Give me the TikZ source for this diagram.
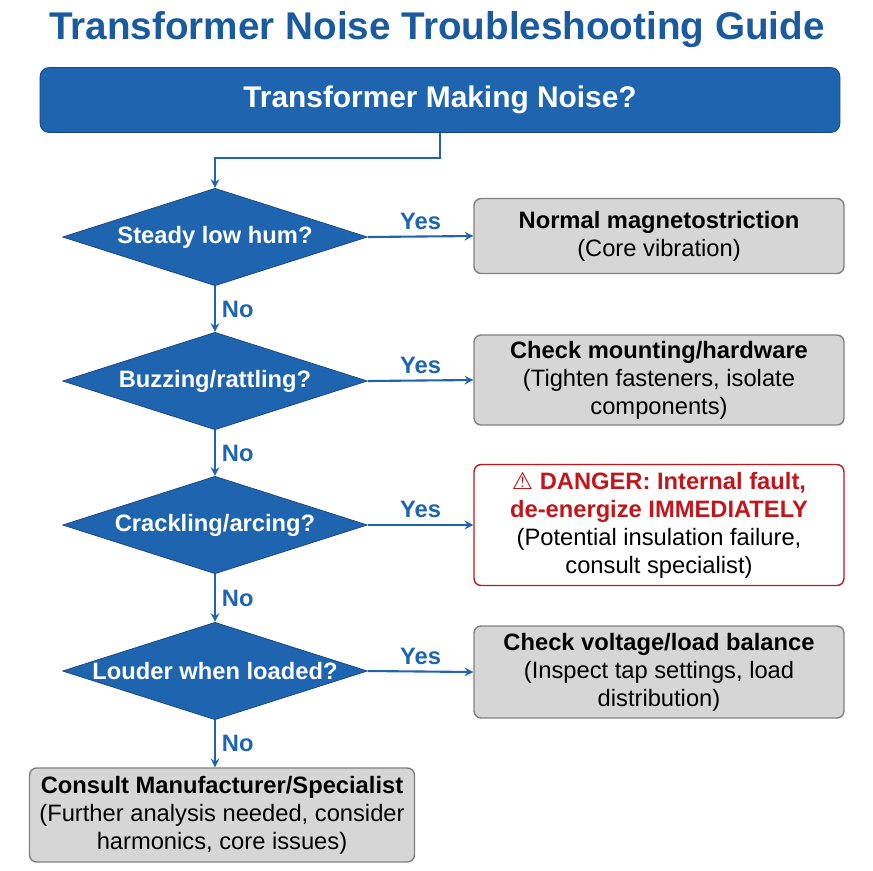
\documentclass[tikz,border=0pt]{standalone}
\usepackage{fontspec}
\setmainfont{Liberation Sans}
\newfontfamily\symfont{DejaVu Sans}
\usetikzlibrary{shapes.geometric}
\definecolor{mainblue}{HTML}{1F64AF}
\definecolor{titleblue}{HTML}{1A5A9E}
\definecolor{dangerred}{HTML}{C0161C}
\definecolor{boxgray}{HTML}{D6D6D6}
\begin{document}
\begin{tikzpicture}[x=0.02cm,y=-0.02cm]
        \tikzstyle{dec} = [diamond, aspect=3.1, inner sep=0pt, minimum width=6.1cm, minimum height=1.95cm, fill=mainblue, draw=mainblue!70!black, text=white, font=\fontsize{13.5}{16}\selectfont\bfseries]
        \tikzstyle{res} = [rectangle, rounded corners=4pt, minimum width=7.4cm, align=center, fill=boxgray, draw=gray, thick, font=\fontsize{13.5}{16}\selectfont]
        \tikzstyle{arrow} = [very thick, draw=mainblue, ->, >=stealth]
        \tikzstyle{lab} = [text=mainblue, font=\fontsize{13.5}{16}\selectfont\bfseries]
        \useasboundingbox (0,0) rectangle (873,870);
        \node (title) [text=titleblue, font=\fontsize{22}{26}\selectfont\bfseries] at (437,30) {Transformer Noise Troubleshooting Guide};
        \node (top) [rectangle, rounded corners=5pt, minimum width=16cm, minimum height=1.3cm, fill=mainblue, draw=mainblue!70!black, text=white, font=\fontsize{17}{20}\selectfont\bfseries] at (440,100) {Transformer Making Noise?};
        \node (d1) [dec] at (215,237) {Steady low hum?};
        \node (d2) [dec] at (215,381) {Buzzing/rattling?};
        \node (d3) [dec] at (215,525) {Crackling/arcing?};
        \node (d4) [dec] at (215,671) {Louder when loaded?};
        \node (r1) [res, minimum height=1.5cm] at (659,236) {\textbf{Normal magnetostriction}\\(Core vibration)};
        \node (r2) [res, minimum height=1.76cm] at (659,380) {\textbf{Check mounting/hardware}\\(Tighten fasteners, isolate\\components)};
        \node (r3) [res, minimum height=2.42cm, fill=white, draw=dangerred] at (659,525) {\textcolor{dangerred}{\textbf{{\symfont ⚠} DANGER: Internal fault,}}\\\textcolor{dangerred}{\textbf{de-energize IMMEDIATELY}}\\(Potential insulation failure,\\consult specialist)};
        \node (r4) [res, minimum height=1.84cm] at (659,672) {\textbf{Check voltage/load balance}\\(Inspect tap settings, load\\distribution)};
        \node (r5) [res, minimum width=7.7cm, minimum height=1.88cm] at (222,815) {\textbf{Consult Manufacturer/Specialist}\\(Further analysis needed, consider\\harmonics, core issues)};
        \draw[arrow] (top.south) |- (215,158) -- (d1.north);
        \draw[arrow] (d1.east) -- node[lab, above] {Yes} (r1.west);
        \draw[arrow] (d2.east) -- node[lab, above] {Yes} (r2.west);
        \draw[arrow] (d3.east) -- node[lab, above] {Yes} (r3.west);
        \draw[arrow] (d4.east) -- node[lab, above] {Yes} (r4.west);
        \draw[arrow] (d1.south) -- node[lab, right] {No} (d2.north);
        \draw[arrow] (d2.south) -- node[lab, right] {No} (d3.north);
        \draw[arrow] (d3.south) -- node[lab, right] {No} (d4.north);
        \draw[arrow] (d4.south) -- node[lab, right] {No} (d4.south |- r5.north);
    \end{tikzpicture}
\end{document}
